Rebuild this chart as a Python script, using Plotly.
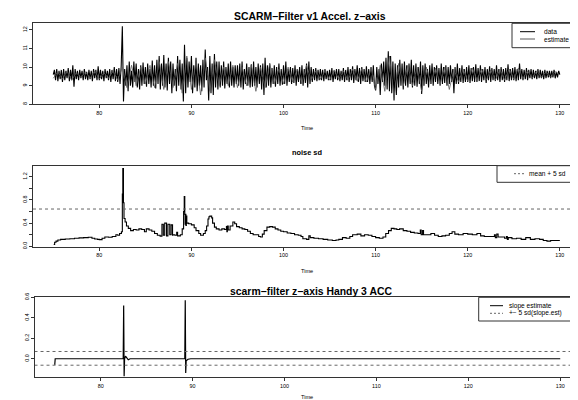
import numpy as np
import plotly.graph_objects as go

W, H = 578, 400
OFF = 8  # page body margin offset of the figure inside the window

# ---------------- Panel 1: accel z-axis data (8 samples / s), hand-read ----------------
DATA_ROWS = [
    [9.6, 9.85, 9.3, 9.9, 9.25, 9.8, 9.35, 9.85],      # 75
    [9.2, 9.9, 9.3, 9.8, 9.4, 9.95, 9.25, 9.85],       # 76
    [9.3, 10.1, 8.95, 9.9, 9.35, 9.8, 9.3, 9.85],      # 77
    [9.4, 9.8, 9.3, 9.9, 9.35, 9.75, 9.3, 9.85],       # 78
    [9.35, 9.8, 9.25, 9.9, 9.4, 9.85, 9.3, 10.05],     # 79
    [9.3, 9.85, 9.35, 9.8, 9.25, 9.9, 9.4, 9.8],       # 80
    [9.3, 9.9, 9.2, 9.85, 9.35, 10.0, 9.25, 9.9],      # 81
    [9.2, 9.95, 9.1, 10.05, 12.2, 8.15, 9.9, 9.0],     # 82
    [10.1, 8.7, 10.3, 9.0, 9.8, 8.9, 10.3, 9.2],       # 83
    [10.2, 8.9, 9.9, 8.8, 10.1, 9.0, 10.25, 9.1],      # 84
    [10.0, 8.95, 10.2, 9.1, 9.9, 8.9, 10.35, 9.0],     # 85
    [10.1, 8.85, 10.4, 9.1, 10.6, 8.8, 10.2, 9.0],     # 86
    [10.65, 8.9, 10.2, 8.75, 10.5, 9.1, 10.3, 8.6],    # 87
    [10.2, 9.0, 9.9, 8.7, 10.6, 9.0, 10.4, 8.8],       # 88
    [10.2, 8.15, 11.2, 8.6, 10.5, 8.9, 10.3, 9.2],     # 89
    [10.6, 8.6, 10.1, 8.9, 10.5, 8.7, 10.2, 9.0],      # 90
    [10.1, 8.7, 10.4, 8.9, 10.95, 9.3, 10.0, 8.2],     # 91
    [10.6, 8.6, 10.2, 8.5, 10.7, 8.9, 10.3, 8.8],      # 92
    [10.3, 8.9, 10.1, 9.0, 10.3, 8.85, 10.0, 9.1],     # 93
    [10.2, 8.9, 10.3, 9.0, 10.0, 8.9, 10.1, 9.1],      # 94
    [10.1, 9.0, 10.2, 8.9, 10.3, 8.8, 9.9, 9.1],       # 95
    [10.2, 9.0, 10.0, 8.9, 10.15, 8.95, 10.3, 9.0],    # 96
    [10.0, 8.9, 10.2, 9.1, 10.1, 8.8, 10.2, 8.5],      # 97
    [10.5, 8.9, 10.1, 9.0, 10.2, 8.9, 9.95, 9.1],      # 98
    [10.1, 8.95, 10.0, 9.1, 10.2, 9.0, 9.9, 9.05],     # 99
    [10.1, 9.1, 10.3, 9.0, 9.9, 9.2, 10.0, 9.1],       # 100
    [9.95, 9.15, 10.1, 9.0, 9.9, 9.2, 10.0, 9.1],      # 101
    [10.1, 9.0, 9.9, 9.15, 10.2, 8.9, 10.3, 9.1],      # 102
    [10.0, 9.2, 9.9, 9.3, 9.95, 9.25, 9.85, 9.3],      # 103
    [9.9, 9.3, 9.85, 9.25, 9.9, 9.35, 9.8, 9.3],       # 104
    [9.85, 9.3, 9.95, 9.2, 9.8, 9.35, 9.9, 9.3],       # 105
    [9.9, 9.25, 9.8, 9.3, 9.95, 9.2, 9.85, 9.3],       # 106
    [10.0, 9.2, 9.9, 9.3, 10.05, 9.15, 9.9, 9.3],      # 107
    [10.1, 9.2, 9.95, 9.1, 10.0, 9.25, 9.9, 9.2],      # 108
    [10.05, 9.2, 9.9, 9.1, 10.0, 9.2, 10.1, 9.0],      # 109
    [8.75, 10.0, 9.1, 9.9, 8.5, 10.2, 9.2, 10.3],      # 110
    [9.0, 10.5, 8.8, 10.85, 8.7, 10.6, 8.6, 10.3],     # 111
    [8.2, 10.2, 8.5, 10.1, 8.9, 10.4, 9.0, 10.2],      # 112
    [8.8, 10.3, 9.0, 10.1, 8.9, 10.2, 9.1, 10.4],      # 113
    [8.9, 10.1, 9.0, 10.2, 8.95, 10.0, 9.1, 10.3],     # 114
    [8.55, 10.1, 9.0, 10.2, 9.1, 9.9, 8.9, 10.1],      # 115
    [9.1, 10.2, 9.0, 10.0, 9.2, 10.1, 9.1, 9.95],      # 116
    [9.0, 10.2, 9.1, 10.0, 9.15, 10.1, 9.0, 10.0],     # 117
    [9.1, 10.1, 9.2, 9.9, 8.6, 10.0, 9.1, 10.2],       # 118
    [9.1, 9.95, 9.2, 10.1, 9.15, 9.9, 9.2, 10.0],      # 119
    [9.2, 10.1, 9.15, 9.95, 9.25, 10.0, 9.2, 10.15],   # 120
    [9.2, 9.95, 9.25, 10.1, 9.2, 9.9, 9.3, 10.0],      # 121
    [9.15, 9.9, 9.3, 10.05, 9.2, 9.95, 9.3, 9.9],      # 122
    [9.25, 10.1, 9.3, 9.9, 9.2, 10.0, 9.3, 9.9],       # 123
    [9.2, 9.95, 9.3, 10.15, 9.25, 9.9, 9.3, 9.95],     # 124
    [9.3, 10.0, 9.25, 9.9, 9.3, 10.2, 9.35, 9.9],      # 125
    [9.3, 9.85, 9.35, 9.95, 9.3, 9.85, 9.4, 9.9],      # 126
    [9.35, 9.85, 9.4, 9.8, 9.35, 9.9, 9.4, 9.85],      # 127
    [9.4, 9.8, 9.35, 9.85, 9.4, 9.8, 9.45, 9.8],       # 128
    [9.4, 9.8, 9.45, 9.85, 9.4, 9.75, 9.45, 9.8],      # 129
    [9.6],                                             # 130
]
DATA_T0, DATA_DT = 75.0, 0.125

# estimate (2 samples / s)
EST_ROWS = [
    [9.4, 9.75], [9.35, 9.8], [9.3, 9.7], [9.45, 9.75], [9.4, 9.8], [9.35, 9.7],
    [9.4, 9.8], [9.3, 10.0], [8.9, 10.1], [9.0, 10.0], [9.1, 10.1], [8.9, 10.3],
    [8.8, 10.3], [8.9, 10.2], [8.6, 10.6], [8.8, 10.3], [8.5, 10.5], [8.7, 10.4],
    [9.0, 10.0], [9.0, 10.1], [8.9, 10.0], [9.0, 10.1], [8.7, 10.0], [8.9, 10.2],
    [9.1, 9.9], [9.1, 10.0], [9.2, 9.9], [9.1, 10.1], [9.3, 9.8], [9.35, 9.8],
    [9.3, 9.85], [9.35, 9.8], [9.3, 9.9], [9.25, 9.9], [9.2, 9.95], [8.8, 10.1],
    [8.7, 10.6], [8.4, 10.2], [9.0, 10.1], [9.0, 10.0], [8.7, 10.0], [9.1, 9.95],
    [9.1, 10.0], [8.8, 9.9], [9.2, 9.9], [9.25, 9.95], [9.3, 9.9], [9.3, 9.85],
    [9.3, 9.9], [9.3, 9.9], [9.35, 9.95], [9.4, 9.8], [9.4, 9.8], [9.45, 9.75],
    [9.45, 9.75], [9.6],
]
EST_T0, EST_DT = 75.0, 0.5

# ---------------- Panel 2: noise sd ----------------
NS_T = [75.05, 75.15, 75.3, 75.5, 75.8, 76.3, 76.8, 77.3, 77.8, 78.3, 78.8, 79.2, 79.5, 79.8,
        80.0, 80.3, 80.6, 81.0, 81.4, 81.8, 82.0, 82.2, 82.4, 82.5, 82.55, 82.62, 82.68, 82.8,
        82.95, 83.15, 83.4, 83.7, 84.0, 84.3, 84.6, 84.9, 85.1, 85.4, 85.7, 86.0, 86.3, 86.6,
        86.8, 86.95, 87.1, 87.3, 87.45, 87.65, 87.8, 87.95,
        88.0, 88.2, 88.4, 88.5, 88.8, 89.0, 89.15, 89.22,
        89.28, 89.32, 89.36, 89.4, 89.45, 89.5, 89.7, 90.0, 90.3, 90.5, 90.8, 91.0, 91.3,
        91.5, 91.65, 91.8, 91.9, 92.0, 92.2, 92.3, 92.5, 92.7, 93.0, 93.3, 93.6, 93.8, 93.85,
        93.9, 94.0, 94.2, 94.5, 94.7, 94.9, 95.2, 95.5, 95.8, 96.1, 96.4, 96.7, 97.0, 97.3,
        97.5, 97.7, 97.9, 98.2, 98.5, 98.8, 99.1, 99.4, 99.7, 100.0, 100.4, 100.8, 101.2,
        101.6, 101.9, 102.1, 102.5, 102.75, 102.9, 103.3, 103.8, 104.3, 104.8, 105.3, 105.7,
        106.0, 106.4, 106.8, 107.2, 107.5, 108.0, 108.4, 108.8, 109.2, 109.6, 110.0, 110.4,
        110.8, 111.1, 111.4, 111.7, 112.0, 112.3, 112.6, 113.0, 113.4, 113.8, 114.2, 114.6,
        114.85, 114.95, 115.1, 115.2, 115.6, 116.0, 116.4, 116.8, 117.2, 117.6,
        118.0, 118.3, 118.6, 119.0, 119.5, 120.0, 120.5, 121.0, 121.4, 121.8, 122.4, 122.9,
        123.0, 123.15, 123.3, 123.6, 124.0, 124.2, 124.3, 124.4, 124.8,
        125.3, 125.8, 126.3, 126.8, 127.3, 127.8, 128.2, 128.6, 129.0, 129.5, 130.0]
NS_V = [0.03, 0.07, 0.09, 0.11, 0.12, 0.125, 0.13, 0.14, 0.145, 0.15, 0.155, 0.14, 0.125, 0.12,
        0.115, 0.14, 0.16, 0.155, 0.17, 0.2, 0.19, 0.22, 0.25, 0.9, 1.34, 0.75, 0.48, 0.42,
        0.35, 0.31, 0.27, 0.29, 0.28, 0.3, 0.29, 0.25, 0.3, 0.28, 0.26, 0.22, 0.19, 0.175,
        0.38, 0.19, 0.4, 0.18, 0.38, 0.2, 0.37, 0.19,
        0.2, 0.19, 0.24, 0.18, 0.2, 0.3, 0.6, 0.86,
        0.55, 0.38, 0.55, 0.36, 0.52, 0.4, 0.39, 0.37, 0.32, 0.27, 0.22, 0.19, 0.22,
        0.27, 0.35, 0.47, 0.51, 0.52, 0.49, 0.4, 0.33, 0.3, 0.28, 0.3, 0.29, 0.34, 0.25,
        0.35, 0.28, 0.35, 0.42, 0.39, 0.34, 0.32, 0.3, 0.29, 0.26, 0.22, 0.2, 0.2, 0.17,
        0.16, 0.21, 0.27, 0.33, 0.34, 0.33, 0.3, 0.28, 0.26, 0.25, 0.23, 0.22, 0.2,
        0.19, 0.17, 0.13, 0.12, 0.18, 0.15, 0.14, 0.13, 0.12, 0.11, 0.1, 0.11,
        0.12, 0.15, 0.14, 0.17, 0.2, 0.21, 0.18, 0.2, 0.19, 0.17, 0.15, 0.14,
        0.16, 0.22, 0.27, 0.31, 0.3, 0.29, 0.3, 0.27, 0.26, 0.24, 0.23, 0.22,
        0.28, 0.2, 0.27, 0.2, 0.2, 0.22, 0.19, 0.17, 0.18, 0.19,
        0.22, 0.25, 0.21, 0.2, 0.22, 0.21, 0.2, 0.22, 0.18, 0.17, 0.17, 0.2,
        0.15, 0.21, 0.16, 0.16, 0.14, 0.17, 0.12, 0.15, 0.13,
        0.14, 0.12, 0.15, 0.12, 0.13, 0.12, 0.1, 0.09, 0.1, 0.1, 0.1]
NS_THRESH = 0.643

# ---------------- Panel 3: slope estimate ----------------
SL_T = [75.0, 75.05, 82.45, 82.5, 82.55, 82.6, 82.7, 82.85, 83.0, 83.2, 89.15, 89.2, 89.25,
        89.3, 89.5, 89.8, 130.0]
SL_V = [-0.06, 0.0, 0.0, 0.52, -0.17, 0.0, 0.025, 0.0, -0.01, 0.0, 0.0, 0.57, -0.14,
        -0.02, -0.005, 0.0, 0.0]
SL_UP, SL_LO = 0.071, -0.063

TITLES = ["SCARM\u2212Filter v1 Accel. z\u2212axis", "noise sd", "scarm\u2212filter z\u2212axis Handy 3 ACC"]

# -------------------------------------------------------------------------------
data_v = [v for row in DATA_ROWS for v in row]
data_t = DATA_T0 + DATA_DT * np.arange(len(data_v))
est_v = [v for row in EST_ROWS for v in row]
est_t = EST_T0 + EST_DT * np.arange(len(est_v))

FONT = "Liberation Sans, Arial, Helvetica, sans-serif"
AX = "#333333"

fig = go.Figure()
fig.add_trace(go.Scatter(x=data_t, y=data_v, mode="lines", line=dict(color="black", width=1.1),
                         xaxis="x", yaxis="y", showlegend=False))
fig.add_trace(go.Scatter(x=est_t, y=est_v, mode="lines", line=dict(color="#5a5a5a", width=0.8),
                         xaxis="x", yaxis="y", showlegend=False))
fig.add_trace(go.Scatter(x=NS_T, y=NS_V, mode="lines", line=dict(color="black", width=1.1, shape="hv"),
                         xaxis="x2", yaxis="y2", showlegend=False))
fig.add_trace(go.Scatter(x=[72.8, 133], y=[NS_THRESH, NS_THRESH], mode="lines",
                         line=dict(color="#666", width=1, dash="3px,3px"),
                         xaxis="x2", yaxis="y2", showlegend=False))
fig.add_trace(go.Scatter(x=SL_T, y=SL_V, mode="lines", line=dict(color="black", width=1.2),
                         xaxis="x3", yaxis="y3", showlegend=False))
for lv in (SL_UP, SL_LO):
    fig.add_trace(go.Scatter(x=[72.8, 133], y=[lv, lv], mode="lines",
                             line=dict(color="#666", width=1, dash="3px,3px"),
                             xaxis="x3", yaxis="y3", showlegend=False))


def px_x(p):
    return (p - OFF) / W


def px_y(p):
    return 1 - (p - OFF) / H


def xax(left, rng):
    return dict(domain=[px_x(left), px_x(580)], range=rng, tickvals=[80, 90, 100, 110, 120, 130],
                ticks="outside", ticklen=3, tickwidth=1, tickcolor=AX, showline=True,
                linecolor=AX, linewidth=1, mirror=True, showgrid=False, zeroline=False,
                automargin=False,
                tickfont=dict(size=5.4, color="black", family=FONT))


def yax(top, bottom, rng, tv, tt):
    return dict(domain=[px_y(bottom), px_y(top)], range=rng, tickvals=tv, ticktext=tt,
                ticks="outside", ticklen=3, tickwidth=1, tickcolor=AX, showline=True,
                linecolor=AX, linewidth=1, showgrid=False, zeroline=False, tickangle=-90,
                automargin=False,
                tickfont=dict(size=5.4, color="black", family=FONT))


fig.update_layout(
    width=W, height=H, margin=dict(l=0, r=0, t=0, b=0, pad=0, autoexpand=False),
    paper_bgcolor="white", plot_bgcolor="white", showlegend=False,
    xaxis=dict(xax(33, [72.80, 132.19]), anchor="y"),
    yaxis=dict(yax(23.3, 104.3, [8.0, 12.36], [8, 9, 10, 11, 12], ["8", "9", "10", "11", "12"]), anchor="x"),
    xaxis2=dict(xax(33, [72.80, 132.19]), anchor="y2"),
    yaxis2=dict(yax(165.7, 246.6, [-0.005, 1.39], [0, 0.2, 0.4, 0.6, 0.8, 1.0, 1.2],
                    ["0.0", "", "0.4", "", "0.8", "", "1.2"]), anchor="x2"),
    xaxis3=dict(xax(34.7, [72.82, 132.15]), anchor="y3"),
    yaxis3=dict(yax(297.3, 377.3, [-0.181, 0.6], [0, 0.2, 0.4, 0.6], ["0.0", "0.2", "0.4", "0.6"]), anchor="x3"),
)

ann = []
# titles
for txt, cx, cy, sz in [(TITLES[0], 310, 16.7, 10.4), (TITLES[1], 306.7, 152.3, 7.4), (TITLES[2], 311, 291.7, 10.4)]:
    ann.append(dict(text="<b>%s</b>" % txt, x=px_x(cx), y=px_y(cy), xref="paper", yref="paper",
                    showarrow=False, xanchor="center", yanchor="middle",
                    font=dict(size=sz, family=FONT, color="black")))
# axis titles
for cy in (128.3, 270.7, 396.5):
    ann.append(dict(text="Time", x=px_x(307), y=px_y(cy), xref="paper", yref="paper",
                    showarrow=False, xanchor="center", yanchor="middle", borderpad=0,
                    font=dict(size=5.6, family=FONT, color="black")))

shapes = []


def legend_box(left, top, bottom):
    shapes.append(dict(type="rect", xref="paper", yref="paper", x0=px_x(left), x1=px_x(581),
                       y0=px_y(bottom), y1=px_y(top), line=dict(color=AX, width=1), fillcolor="white",
                       layer="above"))


def legend_item(x0, x1, y, text, tx, color, dash):
    shapes.append(dict(type="line", xref="paper", yref="paper", x0=px_x(x0), x1=px_x(x1),
                       y0=px_y(y), y1=px_y(y), line=dict(color=color, width=1, dash=dash), layer="above"))
    ann.append(dict(text=text, x=px_x(tx), y=px_y(y), xref="paper", yref="paper", showarrow=False,
                    xanchor="left", yanchor="middle", borderpad=0,
                    font=dict(size=6.6, family=FONT, color="black")))


legend_box(512, 23.3, 47.7)
legend_item(520, 535, 31.7, "data", 543, "black", "solid")
legend_item(520, 535, 39.0, "estimate", 543, "#5a5a5a", "solid")
legend_box(497, 165.7, 182.3)
legend_item(514, 525, 173.7, "mean + 5 sd", 528, "#666", "2px,2px")
legend_box(478.7, 297.3, 321.0)
legend_item(490, 503, 305.7, "slope estimate", 508, "black", "solid")
legend_item(490, 503, 313.3, "+\u2212 5 sd(slope.est)", 508, "#666", "2px,2px")

fig.update_layout(annotations=ann, shapes=shapes)
fig.write_html("out.html")
